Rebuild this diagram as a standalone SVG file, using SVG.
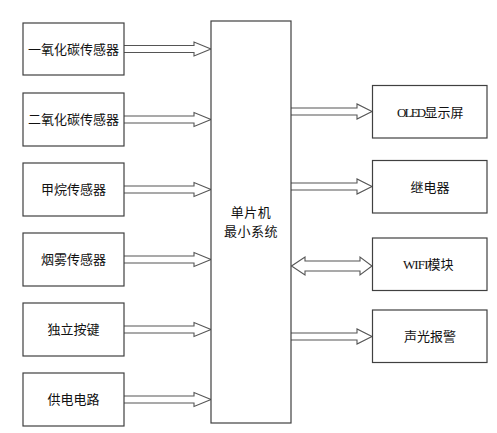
<svg xmlns="http://www.w3.org/2000/svg" width="497" height="433" viewBox="0 0 497 433">
<style>
.box{fill:#fff;stroke:#404040;stroke-width:1.2}
.arr{fill:#fff;stroke:#555;stroke-width:1.1}
.t{font-family:"Noto Sans CJK SC","Liberation Sans",sans-serif;font-size:13px;fill:#111;text-anchor:middle}
.s{text-anchor:start}
.lat{font-family:"Liberation Serif",serif;font-size:13px}
</style>
<rect width="497" height="433" fill="#fff"/>
<g id="connectors">
<path class="arr" d="M124,45.5 H194 V42 L211,49 L194,56 V52.5 H124"/>
<path class="arr" d="M124,116 H194 V112.5 L211,119.5 L194,126.5 V123 H124"/>
<path class="arr" d="M124,186 H194 V182.5 L211,189.5 L194,196.5 V193 H124"/>
<path class="arr" d="M124,256 H194 V252.5 L211,259.5 L194,266.5 V263 H124"/>
<path class="arr" d="M124,326 H194 V322.5 L211,329.5 L194,336.5 V333 H124"/>
<path class="arr" d="M124,396 H194 V392.5 L211,399.5 L194,406.5 V403 H124"/>
<path class="arr" d="M291,108 H357 V104 L372,111.5 L357,119 V115 H291"/>
<path class="arr" d="M291,183 H357 V179 L372,186.5 L357,194 V190 H291"/>
<path class="arr" d="M291.5,266 L305,257 V261 H360 V257 L372,266 L360,275 V271 H305 V275 Z"/>
<path class="arr" d="M291,333 H357 V329 L372,336.5 L357,344 V340 H291"/>
</g>
<g id="n1"><rect class="box" x="23" y="23" width="101" height="52"/><text class="t" x="73.5" y="53.5">一氧化碳传感器</text></g>
<g id="n2"><rect class="box" x="23" y="93" width="101" height="53"/><text class="t" x="73.5" y="124">二氧化碳传感器</text></g>
<g id="n3"><rect class="box" x="23" y="163" width="101" height="53"/><text class="t" x="73.5" y="194">甲烷传感器</text></g>
<g id="n4"><rect class="box" x="23" y="233" width="101" height="53"/><text class="t" x="73.5" y="264">烟雾传感器</text></g>
<g id="n5"><rect class="box" x="23" y="303" width="101" height="53"/><text class="t" x="73.5" y="334">独立按键</text></g>
<g id="n6"><rect class="box" x="23" y="373" width="101" height="53"/><text class="t" x="73.5" y="404">供电电路</text></g>
<g id="mcu"><rect class="box" x="211" y="21" width="80" height="402"/><text class="t" x="251" y="217" letter-spacing="0.5">单片机</text><text class="t" x="251" y="236" letter-spacing="0.5">最小系统</text></g>
<g id="r1"><rect class="box" x="372.5" y="85.5" width="114.5" height="52.5" stroke="#222"/><text class="t s" x="397" y="116.5"><tspan class="lat" letter-spacing="-1.8">OLED</tspan>显示屏</text></g>
<g id="r2"><rect class="box" x="372.5" y="160.5" width="114.5" height="52.5" stroke="#222"/><text class="t" x="430" y="191.5">继电器</text></g>
<g id="r3"><rect class="box" x="372.5" y="238" width="114.5" height="52.5" stroke="#222"/><text class="t s" x="403" y="269"><tspan class="lat" letter-spacing="-0.9">WIFI</tspan>模块</text></g>
<g id="r4"><rect class="box" x="372.5" y="310" width="114.5" height="52.5" stroke="#222"/><text class="t" x="430" y="341">声光报警</text></g>
</svg>
